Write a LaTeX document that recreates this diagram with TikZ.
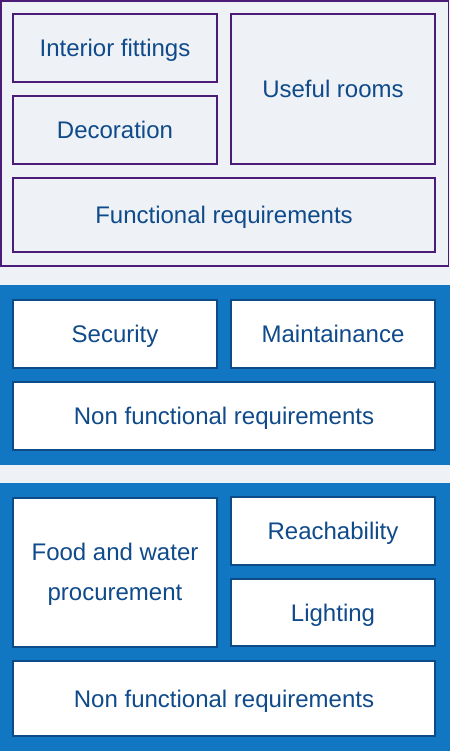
\documentclass[tikz,border=0pt]{standalone}
\usepackage{fontspec}
\setmainfont{Liberation Sans}
\usetikzlibrary{positioning}
\definecolor{pagebg}{RGB}{238,241,246}
\definecolor{rooms}{RGB}{74,28,120}
\definecolor{needblue}{RGB}{18,119,195}
\definecolor{edgeblue}{RGB}{12,74,136}
\definecolor{textblue}{RGB}{15,74,138}

\begin{document}
\begin{tikzpicture}[x=1pt,y=-1pt]

\tikzstyle{part}=[draw, line width=2pt, inner sep=0pt, align=center, text=textblue, text height=17pt, text depth=0pt, font=\fontsize{24}{39.5}\selectfont]
\tikzstyle{funcpart}=[part, draw=rooms, fill=pagebg]
\tikzstyle{nonpart}=[part, draw=edgeblue, fill=white]
\tikzstyle{half}=[minimum width=204pt, minimum height=68pt]
\tikzstyle{wide}=[minimum width=422pt, minimum height=68pt]

\fill[pagebg] (0,0) rectangle (450,751);
\useasboundingbox (0,0) rectangle (450,751);

% functional block
\draw[rooms, line width=1.6pt, fill=pagebg] (0.8,0.8) rectangle (448.3,266);

\node[funcpart, half] (fit) at (115,48) {Interior fittings};
\node[funcpart, half, below=12pt of fit] (deco) {Decoration};
\node[funcpart, half, minimum height=150pt] (rooms) at (333,89) {Useful rooms};
\node[funcpart, wide, minimum height=74pt] (funcreq) at (224,215) {Functional requirements};

% non functional blocks
\fill[needblue] (0,285) rectangle (450,465);
\fill[needblue] (0,483) rectangle (450,751);

\node[nonpart, half] (secu) at (115,334) {Security};
\node[nonpart, half, right=12pt of secu] (maint) {Maintainance};
\node[nonpart, wide] (nonreq) at (224,416) {Non functional requirements};

\node[nonpart, half, minimum height=149pt, text height=56.5pt] (food) at (115,572) {Food and water\\procurement};
\node[nonpart, half] (reach) at (333,531) {Reachability};
\node[nonpart, half, minimum height=67pt, below=12pt of reach] (light) {Lighting};
\node[nonpart, wide, minimum height=75pt] (nonreq2) at (224,698.5) {Non functional requirements};

\end{tikzpicture}
\end{document}
